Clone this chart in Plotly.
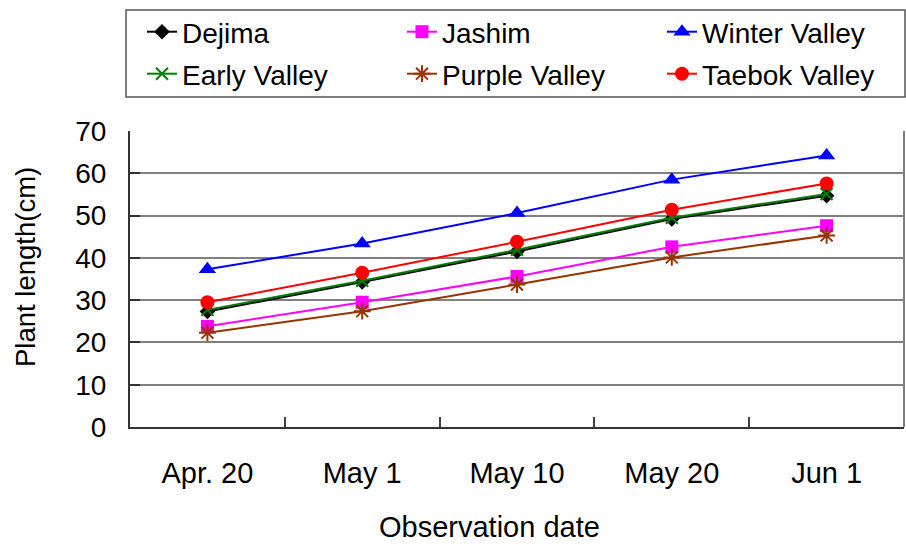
import plotly.graph_objects as go

dates = ["Apr. 20", "May 1", "May 10", "May 20", "Jun 1"]
dejima = [27.3, 34.3, 41.5, 49.2, 54.7]
jashim = [23.8, 29.5, 35.6, 42.6, 47.6]
winter_valley = [37.3, 43.4, 50.6, 58.5, 64.2]
early_valley = [27.7, 34.6, 41.9, 49.5, 55.1]
purple_valley = [22.3, 27.4, 33.7, 40.1, 45.3]
taebok_valley = [29.5, 36.5, 43.8, 51.4, 57.6]

y_ticks = [0, 10, 20, 30, 40, 50, 60, 70]

FONT = "Liberation Sans"
FS = 28

W, H = 906, 545
L, R, T, B = 130, 2, 131, 118
pw = W - L - R
ph = H - T - B

def px_x(x):
    return (x - L) / pw

def px_y(y):
    return (H - B - y) / ph

# (name, values, color, symbol, size, legend column px, legend row px)
series = [
    ("Dejima", dejima, "#000000", "diamond", 12, 142, 32),
    ("Jashim", jashim, "#FF00FF", "square", 13, 402, 32),
    ("Winter Valley", winter_valley, "#0000FF", "triangle-up", 15, 662, 32),
    ("Early Valley", early_valley, "#008000", "x-thin-open", 12, 142, 74),
    ("Purple Valley", purple_valley, "#993300", "asterisk-open", 14, 402, 74),
    ("Taebok Valley", taebok_valley, "#FF0000", "circle", 14, 662, 74),
]

fig = go.Figure()
legends = {}
for i, (name, vals, color, sym, size, lx, ly) in enumerate(series):
    key = "legend" if i == 0 else f"legend{i + 1}"
    fig.add_trace(go.Scatter(
        x=dates, y=vals, name=name, mode="lines+markers",
        line=dict(color=color, width=2),
        marker=dict(symbol=sym, size=size, color=color,
                    line=dict(color=color, width=2 if "open" in sym else 0)),
        legend=key,
    ))
    legends[key] = dict(orientation="h", xanchor="left", yanchor="middle",
                        x=px_x(lx), y=px_y(ly), bgcolor="rgba(0,0,0,0)",
                        font=dict(family=FONT, size=FS), itemwidth=30)

fig.update_layout(
    width=W, height=H,
    margin=dict(l=L, r=R, t=T, b=B),
    paper_bgcolor="white", plot_bgcolor="white",
    font=dict(family=FONT, size=FS, color="#000000"),
    showlegend=True,
    **legends,
    xaxis=dict(
        type="category", tickson="boundaries", ticks="inside", ticklen=10,
        tickcolor="#404040", tickwidth=1.5,
        showline=True, linecolor="#333333", linewidth=2,
        showgrid=False, tickfont=dict(size=29), ticklabelstandoff=19,
        range=[-0.5, 4.5],
    ),
    yaxis=dict(
        range=[0, 70], tickvals=y_ticks, ticks="inside", ticklen=10,
        tickcolor="#333333", tickwidth=2,
        showline=True, linecolor="#333333", linewidth=2,
        showgrid=True, gridcolor="#808080", gridwidth=2,
        tickfont=dict(size=FS), ticklabelstandoff=16, zeroline=False,
    ),
    annotations=[
        dict(text="Observation date", xref="paper", yref="paper",
             x=px_x(489), y=px_y(527), xanchor="center", yanchor="middle",
             showarrow=False, font=dict(family=FONT, size=29)),
        dict(text="Plant length(cm)", xref="paper", yref="paper",
             x=px_x(25), y=px_y(267), xanchor="center", yanchor="middle",
             textangle=-90, showarrow=False, font=dict(family=FONT, size=27.5)),
    ],
    shapes=[
        dict(type="rect", xref="paper", yref="paper",
             x0=px_x(126), x1=px_x(905), y0=px_y(97), y1=px_y(10),
             line=dict(color="#555555", width=1.5), fillcolor="rgba(0,0,0,0)"),
        dict(type="line", xref="paper", yref="paper",
             x0=1, x1=1, y0=0, y1=1,
             line=dict(color="#808080", width=2)),
    ],
)

fig.write_html("out.html", config={"displayModeBar": False},
               post_script="document.body.style.margin='0';document.body.style.overflow='hidden';")
